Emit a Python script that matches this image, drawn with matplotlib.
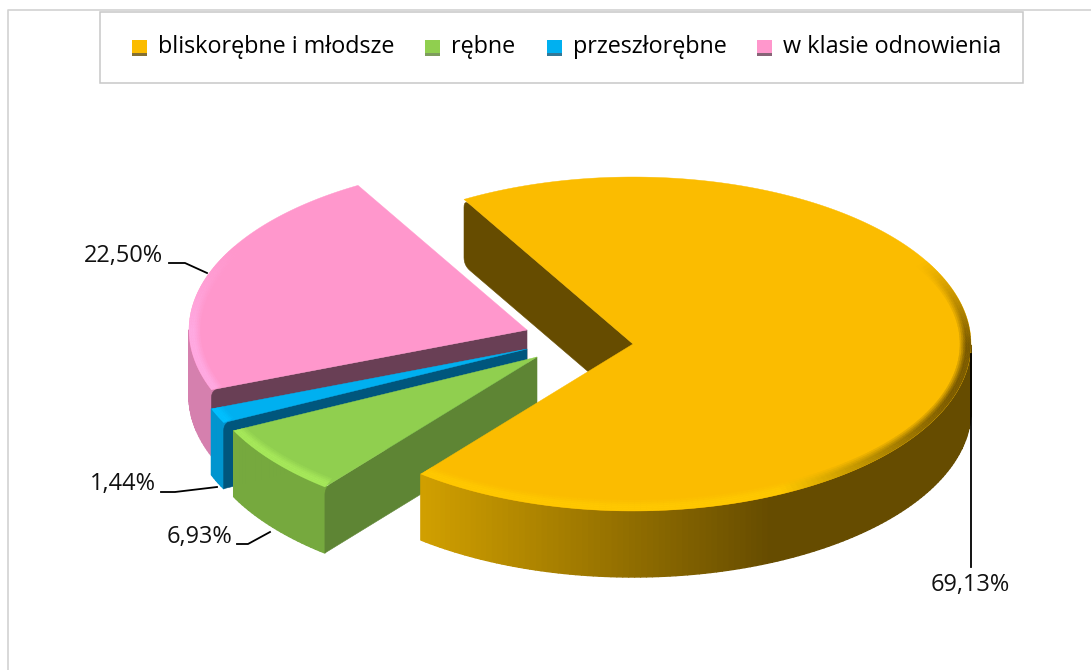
import numpy as np
import matplotlib
matplotlib.use('Agg')
import matplotlib.pyplot as plt
from matplotlib.collections import PolyCollection
from matplotlib.colors import to_rgb
from matplotlib.patches import Rectangle

# Data
###############################################################################
categories = ['bliskorębne i młodsze', 'rębne', 'przeszłorębne',
              'w klasie odnowienia']
values = [69.13, 6.93, 1.44, 22.50]
value_labels = ['69,13%', '6,93%', '1,44%', '22,50%']

# Styles and geometry (pixels of the 1091x670 picture)
###############################################################################
top_colors = ['#fbbc00', '#90cf4f', '#00b0f0', '#ff97cc']
rim_colors = ['#ffc800', '#a6e85a', '#00c0ff', '#ffaae2']
cut_colors = ['#664c00', '#5e8534', '#00567d', '#693f55']
side_colors = ['#d1a000', '#76a93e', '#0095cf', '#d580ae']
centers = [(633, 344), (537, 357), (527, 349), (527, 330)]
RX, RY = 338, 167
DEPTH = 66
BEVEL = 11
CORNER = 8
START = 120.0

plt.rcParams['font.family'] = ['Open Sans', 'DejaVu Sans']
fig = plt.figure(figsize=(10.91, 6.70), dpi=100)
ax = fig.add_axes([0, 0, 1, 1])
ax.set_xlim(0, 1091)
ax.set_ylim(670, 0)
ax.axis('off')


def rim_point(center, theta, inset=0.0):
    rad = np.radians(theta)
    return (center[0] + (RX - inset) * np.cos(rad),
            center[1] - (RY - inset) * np.sin(rad))


def mix(c1, c2, t):
    a, b = np.array(to_rgb(c1)), np.array(to_rgb(c2))
    return tuple(a + (b - a) * float(np.clip(t, 0, 1)))


def side_color(i, x):
    # only the big slice has the light-to-dark sweep along its side
    if i == 0:
        return mix(side_colors[0], cut_colors[0], (x - 420) / 350)
    return to_rgb(side_colors[i])


def rim_color(i, x):
    if i == 0:
        return mix(rim_colors[0], '#7a5a00', (x - 780) / 170)
    return to_rgb(rim_colors[i])


def i_z(i):
    # back to front: pink, blue, green, yellow
    return 10 - 2 * i


def round_corner(before, corner, after, radius):
    """Points of a small curve replacing a sharp polygon corner."""
    before, corner, after = map(np.array, (before, corner, after))
    d0 = (before - corner) / np.linalg.norm(before - corner)
    d1 = (after - corner) / np.linalg.norm(after - corner)
    p0, p1 = corner + d0 * radius, corner + d1 * radius
    s = np.linspace(0, 1, 8)[:, None]
    return (1 - s) ** 2 * p0 + 2 * s * (1 - s) * corner + s ** 2 * p1


def draw_cut(i, c, a_start):
    x, y = rim_point(c, a_start)
    apex, top, bottom, apex_low = (c[0], c[1]), (x, y), (x, y + DEPTH), (c[0], c[1] + DEPTH)
    path = [apex]
    path.extend(round_corner(apex, top, bottom, CORNER))
    if i == 0:
        path.extend(round_corner(top, bottom, apex_low, CORNER))
    else:
        path.append(bottom)
        # side colour shows behind the rounded top corner of the front slices
        ax.fill([x - 1, x + CORNER, x + CORNER, x - 1],
                [y - 1, y - 1, y + CORNER, y + CORNER],
                color=side_color(i, x), lw=0, zorder=i_z(i))
    path.append(apex_low)
    path = np.array(path)
    ax.fill(path[:, 0], path[:, 1], color=cut_colors[i], lw=0.4,
            zorder=i_z(i) + 0.1)


def draw_slice(i, a_start, a_end):
    """Draw one slice going clockwise from a_start down to a_end."""
    c = centers[i]
    thetas = np.linspace(a_start, a_end, max(int(abs(a_start - a_end)), 2) + 1)

    # outer side, front half of the ellipse only
    polys, cols = [], []
    for t0, t1 in zip(thetas[:-1], thetas[1:]):
        if np.sin(np.radians((t0 + t1) / 2)) >= 0:
            continue
        x0, y0 = rim_point(c, t0)
        x1, y1 = rim_point(c, t1)
        polys.append([(x0, y0), (x1, y1), (x1, y1 + DEPTH), (x0, y0 + DEPTH)])
        cols.append(side_color(i, (x0 + x1) / 2))
    if polys:
        ax.add_collection(PolyCollection(polys, facecolors=cols, edgecolors=cols,
                                         linewidths=1.0, zorder=i_z(i)))

    # cut face turned towards the viewer is always at the starting angle
    draw_cut(i, c, a_start)

    # top face
    xs, ys = rim_point(c, thetas)
    top = ax.fill(np.r_[c[0], xs], np.r_[c[1], ys], color=top_colors[i], lw=0.3,
                  zorder=i_z(i) + 0.2)[0]

    # soft bevel round the front of the rim, constant width in pixels
    insets = np.linspace(BEVEL, 0, 7)
    polys, cols = [], []
    for k, (r0, r1) in enumerate(zip(insets[:-1], insets[1:])):
        strength = (k + 1) / 6
        for t0, t1 in zip(thetas[:-1], thetas[1:]):
            mid = (t0 + t1) / 2
            w = np.clip((0.5 - np.sin(np.radians(mid))) / 0.5, 0, 1)
            if w == 0:
                continue
            x0, y0 = rim_point(c, t0, r0)
            x1, y1 = rim_point(c, t1, r0)
            x2, y2 = rim_point(c, t1, r1)
            x3, y3 = rim_point(c, t0, r1)
            polys.append([(x0, y0), (x1, y1), (x2, y2), (x3, y3)])
            cols.append(mix(top_colors[i], rim_color(i, (x0 + x1) / 2),
                            w * min(strength * 1.6, 1)))
    bevel = PolyCollection(polys, facecolors=cols, edgecolors=cols,
                           linewidths=0.3, zorder=i_z(i) + 0.3)
    ax.add_collection(bevel)
    bevel.set_clip_path(top)


# Pie
###############################################################################
angle = START
for i, value in enumerate(values):
    sweep = value / sum(values) * 360
    draw_slice(i, angle, angle - sweep)
    angle -= sweep

# Frame and legend
###############################################################################
ax.plot([8, 8, 1091], [670, 10, 10], color='#d2d2d2', lw=1.2, zorder=1)
ax.add_patch(Rectangle((100, 12), 923, 71, fc='white', ec='#c8c8c8', lw=1.1,
                       zorder=2))

legend_x = [132, 425, 547, 757]
for i, name in enumerate(categories):
    ax.add_patch(Rectangle((legend_x[i], 40), 15, 13, fc=top_colors[i], lw=0,
                           zorder=3))
    ax.add_patch(Rectangle((legend_x[i], 53), 15, 3, fc=cut_colors[i], lw=0,
                           alpha=0.8, zorder=3))
    ax.text(legend_x[i] + 26, 47, name, fontsize=16.8, color='black',
            va='center', ha='left', zorder=3)

# Data labels and leader lines
###############################################################################
label_pos = [(970, 585), (199, 537), (123, 484), (123, 256)]
leaders = [([971, 971], [354, 567]),
           ([237, 248, 270], [544, 544, 532]),
           ([161, 175, 217], [492, 492, 487]),
           ([169, 185, 207], [263, 263, 273])]
for text, pos, (lx, ly) in zip(value_labels, label_pos, leaders):
    ax.text(pos[0], pos[1], text, fontsize=16.9, color='#111111', ha='center',
            va='center', zorder=30)
    ax.plot(lx, ly, color='black', lw=1.3, zorder=30)

fig.savefig('out.png', dpi=100, facecolor='white')
